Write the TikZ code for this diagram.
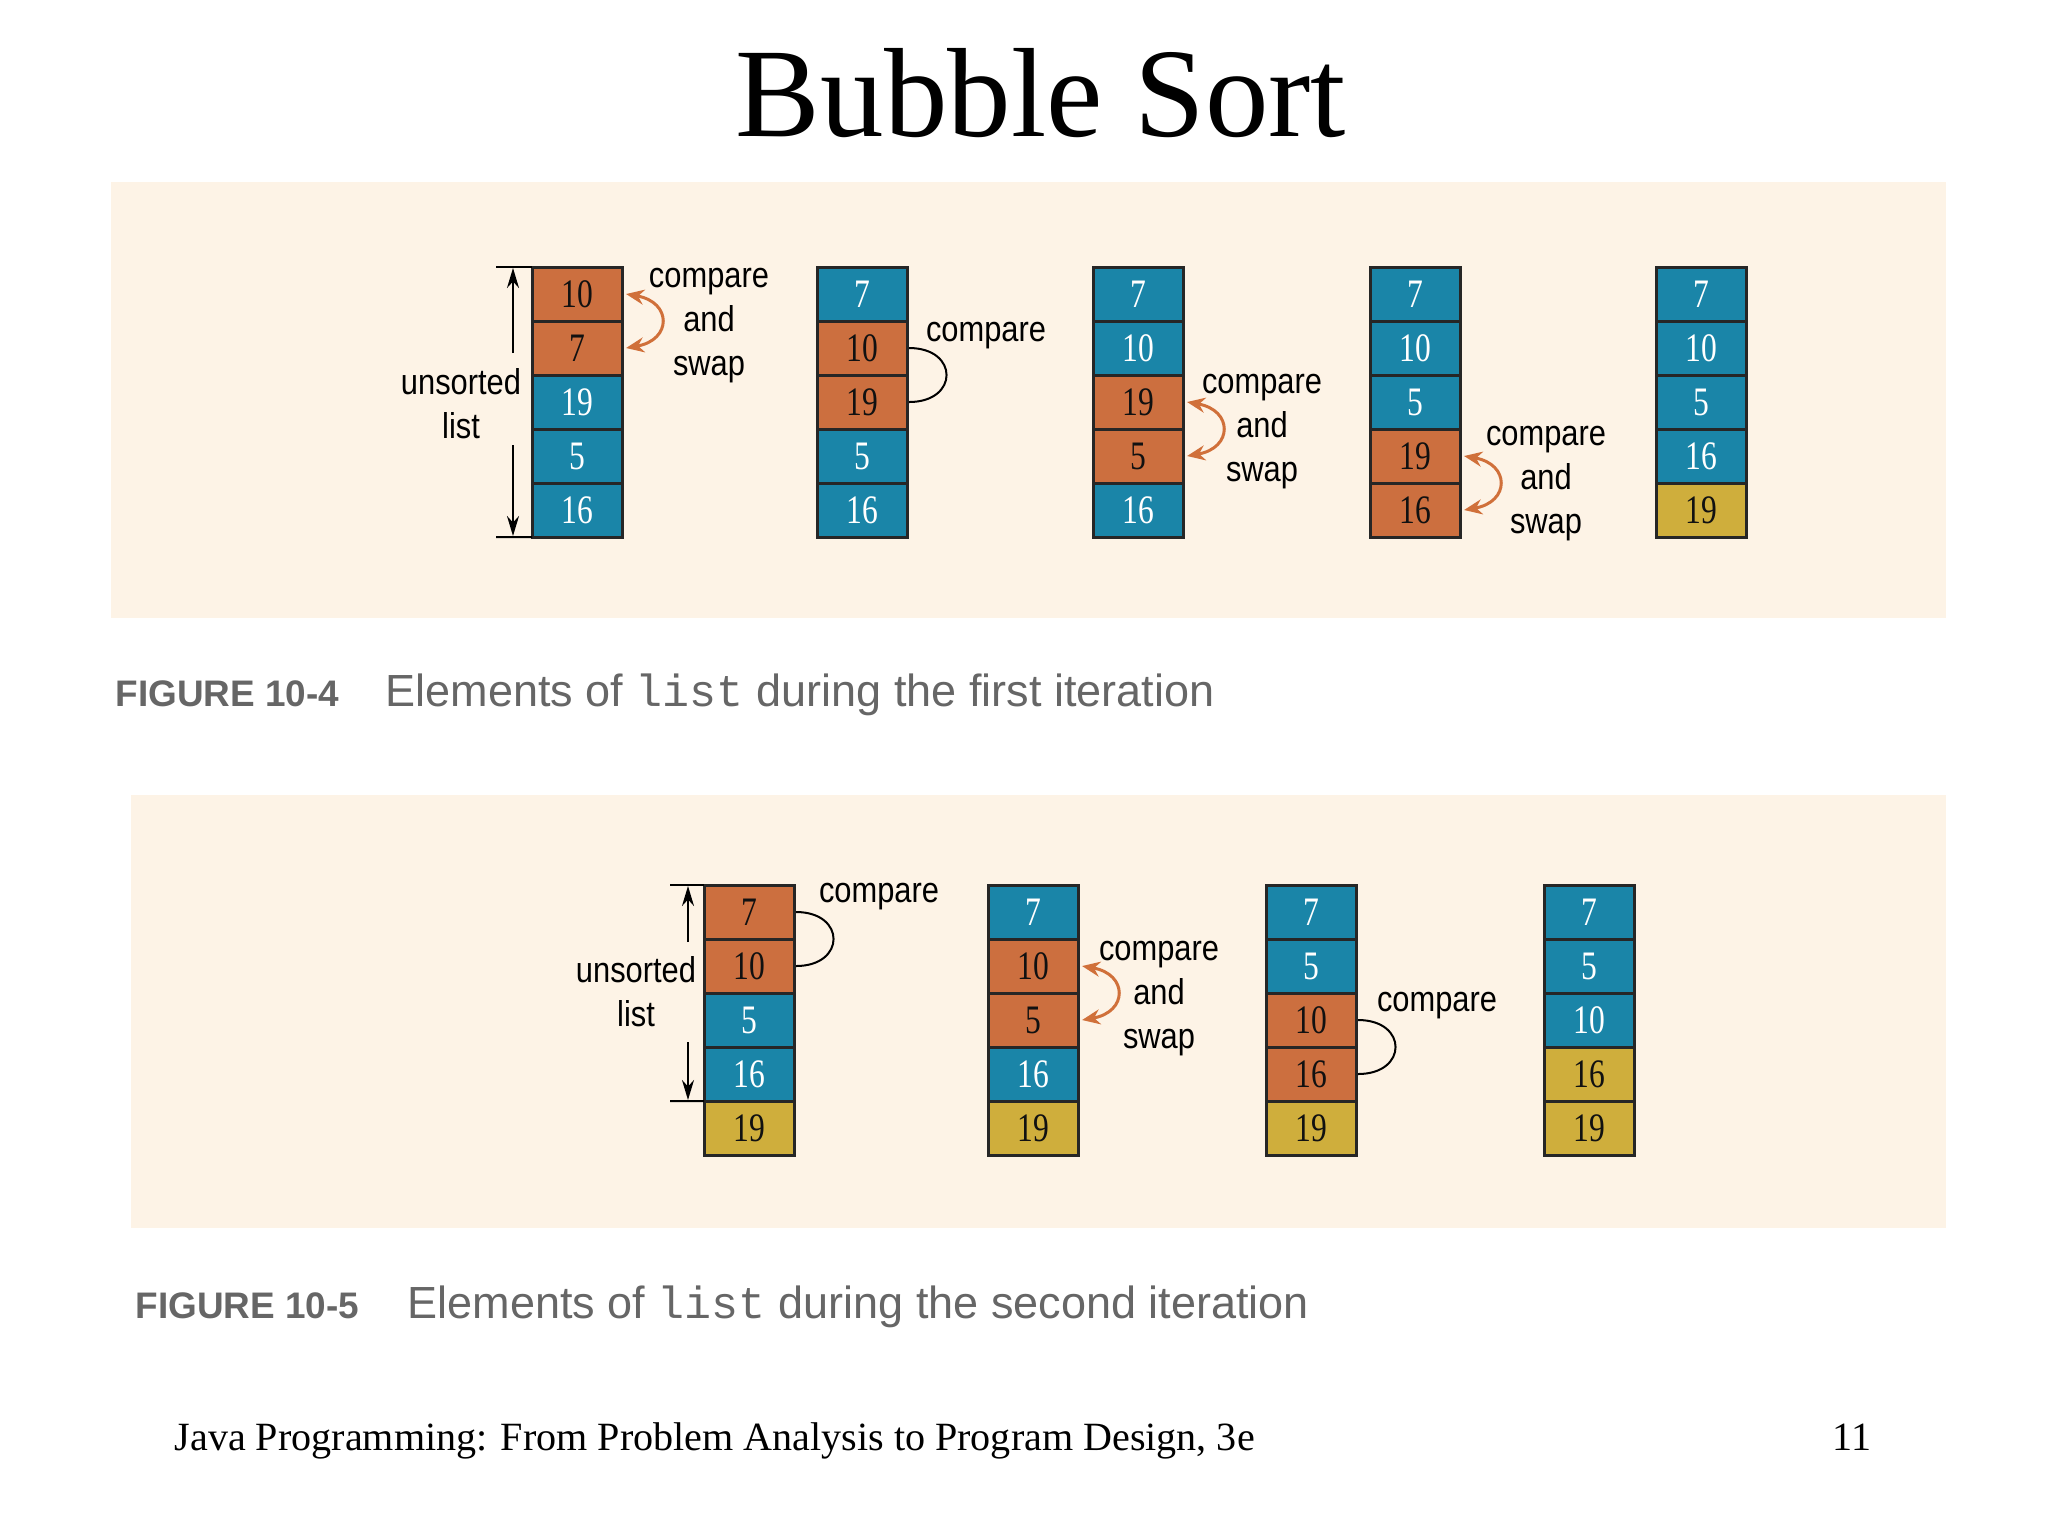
\documentclass[tikz,border=0pt]{standalone}
\usepackage{fontspec}
\setmainfont{Liberation Serif}
\newfontfamily\numfont[FakeStretch=0.78]{Liberation Serif}
\newfontfamily\lblfont[FakeStretch=0.86]{Liberation Sans}
\newfontfamily\capfont{Liberation Sans}
\newfontfamily\capmono{Liberation Mono}
\usetikzlibrary{arrows.meta}

\definecolor{colo}{HTML}{CC6F3F}
\definecolor{colb}{HTML}{1A85A8}
\definecolor{colg}{HTML}{CFAE3C}
\definecolor{txto}{HTML}{111111}
\definecolor{txtb}{HTML}{FFFFFF}
\definecolor{txtg}{HTML}{111111}
\definecolor{panel}{HTML}{FDF3E6}
\definecolor{capgray}{HTML}{666666}
\definecolor{arroworange}{HTML}{D0703A}

\tikzset{
  cell/.style={draw=black!85, line width=0.03cm, outer sep=0pt, minimum width=0.9cm, minimum height=0.54cm,
    inner sep=0pt, anchor=north west, font=\numfont\fontsize{11.5}{12}\selectfont},
  lbl/.style={align=center, inner sep=0pt, font=\lblfont\fontsize{10.2}{12.5}\selectfont},
  swaparrow/.style={draw=arroworange, line width=0.03cm,
    {Stealth[length=0.18cm,width=0.15cm]}-{Stealth[length=0.18cm,width=0.15cm]}},
  cmpline/.style={draw=black, line width=0.02cm},
  bracket/.style={draw=black, line width=0.02cm},
  bracketarrow/.style={bracket, -{Stealth[length=0.2cm,width=0.12cm]}},
  captitle/.style={anchor=base west, inner sep=0pt, text=capgray, font=\capfont\bfseries\fontsize{10.5}{12}\selectfont},
  captext/.style={anchor=base west, inner sep=0pt, text=capgray, font=\capfont\fontsize{12.8}{14}\selectfont},
}

\newcommand\sortcol[4]{%
  \foreach \v/\c [count=\i] in {#4}{%
    \node[cell, fill=col\c, text=txt\c] (#1-\i) at (#2, {#3+(\i-1)*54}) {\v};
  }%
}

\begin{document}
\begin{tikzpicture}[x=0.01cm, y=-0.01cm]
  \useasboundingbox (0,0) rectangle (2048,1536);
  \fill[white] (0,0) rectangle (2048,1536);

  % title
  \node[anchor=base, inner sep=0pt, font=\fontsize{36.1}{40}\selectfont] (title) at (1041,136) {Bubble Sort};

  % panels
  \fill[panel] (111,182) rectangle (1946,618);
  \fill[panel] (131,795) rectangle (1946,1228);

  % ---------- Figure 10-4 ----------
  \sortcol{a1}{532}{267}{10/o,7/o,19/b,5/b,16/b}
  \sortcol{a2}{817}{267}{7/b,10/o,19/o,5/b,16/b}
  \sortcol{a3}{1093}{267}{7/b,10/b,19/o,5/o,16/b}
  \sortcol{a4}{1370}{267}{7/b,10/b,5/b,19/o,16/o}
  \sortcol{a5}{1656}{267}{7/b,10/b,5/b,16/b,19/g}

  % unsorted bracket
  \coordinate (ut1) at (496,267);
  \coordinate (ub1) at (496,537);
  \draw[bracket] (ut1) -- (a1-1.north west);
  \draw[bracket] (ub1) -- (a1-5.south west);
  \coordinate (ua1) at (513,353);
  \coordinate (ua2) at (513,268);
  \coordinate (ua3) at (513,445);
  \coordinate (ua4) at (513,536);
  \draw[bracketarrow] (ua1) -- (ua2);
  \draw[bracketarrow] (ua3) -- (ua4);
  \node[lbl] (ul1) at (461,404) {unsorted\\list};

  % connectors
  \draw[swaparrow] ([xshift=0.04cm]a1-1.east) .. controls +(46,8) and +(46,-8) .. ([xshift=0.04cm]a1-2.east);
  \draw[cmpline] ([xshift=0.02cm]a2-2.east) .. controls +(50,0) and +(50,0) .. ([xshift=0.02cm]a2-3.east);
  \draw[swaparrow] ([xshift=0.04cm]a3-3.east) .. controls +(46,8) and +(46,-8) .. ([xshift=0.04cm]a3-4.east);
  \draw[swaparrow] ([xshift=0.04cm]a4-4.east) .. controls +(46,8) and +(46,-8) .. ([xshift=0.04cm]a4-5.east);

  \node[lbl] (la1) at (709,326) {compare\\and\\swap};
  \node[lbl] (la2) at (986,336) {compare};
  \node[lbl] (la3) at (1262,432) {compare\\and\\swap};
  \node[lbl] (la4) at (1546,484) {compare\\and\\swap};

  % caption 1
  \node[captitle] (cap1) at (115,706) {FIGURE 10-4};
  \node[captext] (cap1t) at (385,706) {Elements of {\capmono list} during the first iteration};

  % ---------- Figure 10-5 ----------
  \sortcol{b1}{704}{885}{7/o,10/o,5/b,16/b,19/g}
  \sortcol{b2}{988}{885}{7/b,10/o,5/o,16/b,19/g}
  \sortcol{b3}{1266}{885}{7/b,5/b,10/o,16/o,19/g}
  \sortcol{b4}{1544}{885}{7/b,5/b,10/b,16/g,19/g}

  \coordinate (vt1) at (670,885);
  \coordinate (vb1) at (670,1101);
  \draw[bracket] (vt1) -- (b1-1.north west);
  \draw[bracket] (vb1) -- (b1-4.south west);
  \coordinate (va1) at (688,942);
  \coordinate (va2) at (688,886);
  \coordinate (va3) at (688,1042);
  \coordinate (va4) at (688,1100);
  \draw[bracketarrow] (va1) -- (va2);
  \draw[bracketarrow] (va3) -- (va4);
  \node[lbl] (ul2) at (636,992) {unsorted\\list};

  \draw[cmpline] ([xshift=0.02cm]b1-1.east) .. controls +(50,0) and +(50,0) .. ([xshift=0.02cm]b1-2.east);
  \draw[swaparrow] ([xshift=0.04cm]b2-2.east) .. controls +(46,8) and +(46,-8) .. ([xshift=0.04cm]b2-3.east);
  \draw[cmpline] ([xshift=0.02cm]b3-3.east) .. controls +(50,0) and +(50,0) .. ([xshift=0.02cm]b3-4.east);

  \node[lbl] (lb1) at (879,897) {compare};
  \node[lbl] (lb2) at (1159,999) {compare\\and\\swap};
  \node[lbl] (lb3) at (1437,1006) {compare};

  % caption 2
  \node[captitle] (cap2) at (135,1318) {FIGURE 10-5};
  \node[captext] (cap2t) at (407,1318) {Elements of {\capmono list} during the second iteration};

  % footer
  \node[anchor=base west, inner sep=0pt, font=\fontsize{11.4}{13}\selectfont] (foot) at (174,1450) {Java Programming: From Problem Analysis to Program Design, 3e};
  \node[anchor=base east, inner sep=0pt, font=\fontsize{11.4}{13}\selectfont] (pagenum) at (1872,1450) {11};
\end{tikzpicture}
\end{document}
